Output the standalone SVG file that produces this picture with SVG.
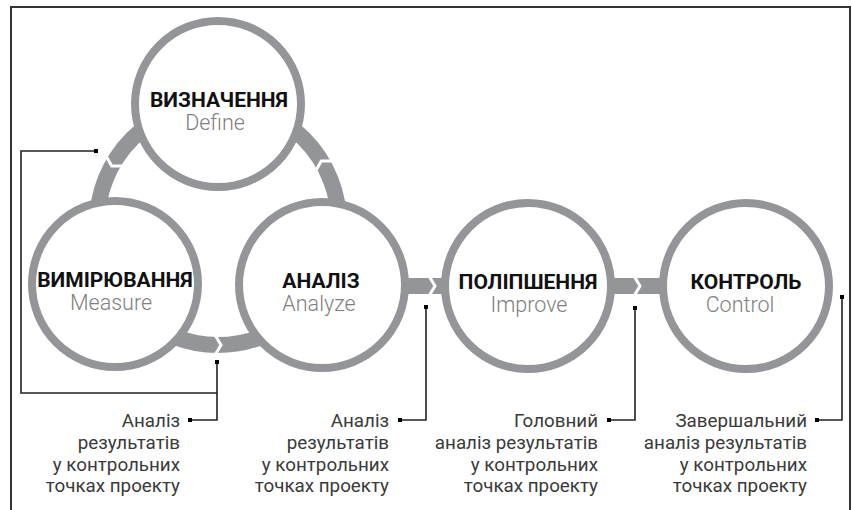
<svg xmlns="http://www.w3.org/2000/svg" width="852" height="510" viewBox="0 0 852 510">
<style>
.ring{fill:none;stroke:#939598;stroke-width:16}
.bar{fill:#939598}
.gap{fill:none;stroke:#ffffff;stroke-width:3;stroke-linejoin:miter}
.circ{fill:#ffffff;stroke:#939598;stroke-width:8}
.t{font-family:Roboto,"Liberation Sans",sans-serif;font-weight:700;font-size:21px;fill:#111;text-anchor:middle}
.s{font-family:Roboto,"Liberation Sans",sans-serif;font-weight:300;font-size:21.5px;fill:#808080;text-anchor:middle}
.l{font-family:Roboto,"Liberation Sans",sans-serif;font-weight:400;font-size:18.8px;fill:#3a3a3a;text-anchor:end}
.ln{fill:none;stroke:#222;stroke-width:1.6}
.frame{fill:none;stroke:#333;stroke-width:2}
.mk{fill:#000}
</style>
<defs>
<path id="chev" d="M-3,-10 L3,0 L-3,10"/>
</defs>
<path class="frame" d="M11,515 V7 H850 V515"/>
<g id="cycle">
<circle class="ring" cx="218" cy="224" r="121"/>
<use href="#chev" class="gap" transform="translate(218,224) rotate(0) translate(0,121)"/>
<use href="#chev" class="gap" transform="translate(218,224) rotate(120) translate(0,121)"/>
<use href="#chev" class="gap" transform="translate(218,224) rotate(240) translate(0,121)"/>
<rect class="bar" x="380" y="278" width="100" height="16"/>
<use href="#chev" class="gap" transform="translate(432,286)"/>
<rect class="bar" x="590" y="278" width="90" height="16"/>
<use href="#chev" class="gap" transform="translate(637,286)"/>
</g>
<g id="define"><circle class="circ" cx="218" cy="104" r="83"/><text class="t" x="219" y="107">ВИЗНАЧЕННЯ</text><text class="s" x="215" y="130">Define</text></g>
<g id="measure"><circle class="circ" cx="115" cy="284" r="83"/><text class="t" x="115" y="287">ВИМІРЮВАННЯ</text><text class="s" x="111" y="310">Measure</text></g>
<g id="analyze"><circle class="circ" cx="322" cy="285" r="83"/><text class="t" x="321" y="288">АНАЛІЗ</text><text class="s" x="319" y="311">Analyze</text></g>
<g id="improve"><circle class="circ" cx="528" cy="286" r="83"/><text class="t" x="528" y="289">ПОЛІПШЕННЯ</text><text class="s" x="529" y="312">Improve</text></g>
<g id="control"><circle class="circ" cx="746" cy="286" r="83"/><text class="t" x="746" y="289">КОНТРОЛЬ</text><text class="s" x="740" y="312">Control</text></g>
<g id="connectors">
<path class="ln" d="M96,151 H21 V393 H217"/>
<path class="ln" d="M217,362 V420 H190"/>
<path class="ln" d="M426,307 V420 H400"/>
<path class="ln" d="M635,308 V420 H609"/>
<path class="ln" d="M842,297 V420 H817"/>
<rect class="mk" x="94" y="149" width="4" height="4"/>
<rect class="mk" x="215" y="360" width="4" height="4"/>
<rect class="mk" x="188" y="418" width="4" height="4"/>
<rect class="mk" x="424" y="305" width="4" height="4"/>
<rect class="mk" x="398" y="418" width="4" height="4"/>
<rect class="mk" x="633" y="306" width="4" height="4"/>
<rect class="mk" x="607" y="418" width="4" height="4"/>
<rect class="mk" x="840" y="295" width="4" height="4"/>
<rect class="mk" x="815" y="418" width="4" height="4"/>
</g>
<g id="label1"><text class="l" x="180" y="427">Аналіз</text><text class="l" x="180" y="449">результатів</text><text class="l" x="180" y="471">у контрольних</text><text class="l" x="180" y="492">точках проекту</text></g>
<g id="label2"><text class="l" x="389" y="427">Аналіз</text><text class="l" x="389" y="449">результатів</text><text class="l" x="389" y="471">у контрольних</text><text class="l" x="389" y="492">точках проекту</text></g>
<g id="label3"><text class="l" x="598" y="427">Головний</text><text class="l" x="598" y="449">аналіз результатів</text><text class="l" x="598" y="471">у контрольних</text><text class="l" x="598" y="492">точках проекту</text></g>
<g id="label4"><text class="l" x="807" y="427">Завершальний</text><text class="l" x="807" y="449">аналіз результатів</text><text class="l" x="807" y="471">у контрольних</text><text class="l" x="807" y="492">точках проекту</text></g>
</svg>
